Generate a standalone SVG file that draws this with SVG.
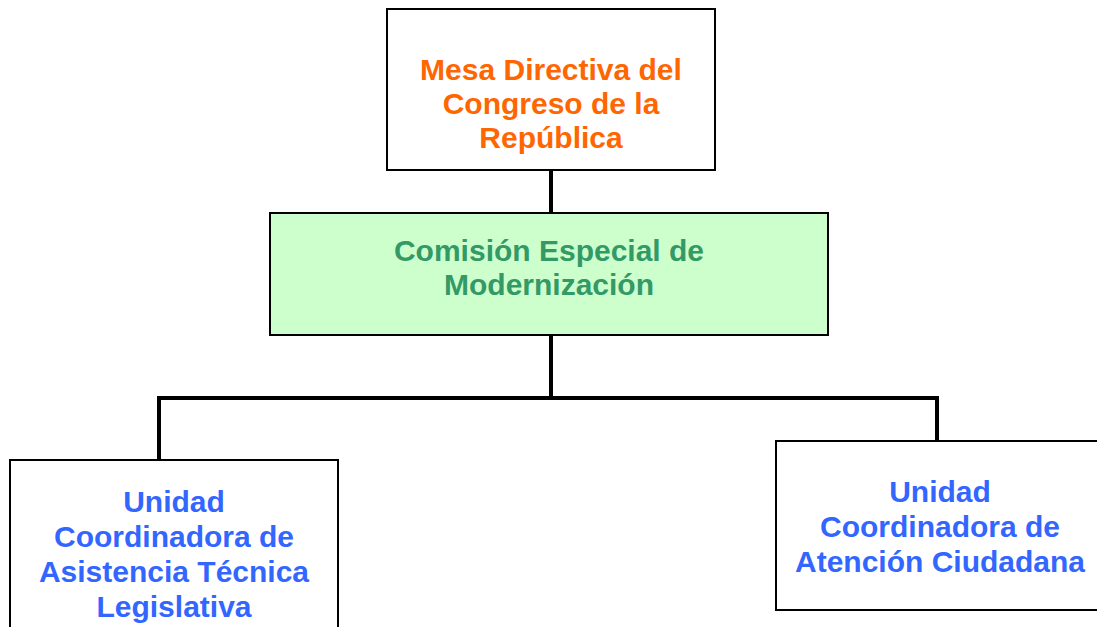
<svg xmlns="http://www.w3.org/2000/svg" width="1097" height="627" viewBox="0 0 1097 627">
<style>
.box{fill:#fff;stroke:#000;stroke-width:2}
.t{font-family:"Liberation Sans",Arial,sans-serif;font-weight:bold;font-size:30px;text-anchor:middle}
.conn{stroke:#000;stroke-width:4;fill:none}
</style>
<rect width="1097" height="627" fill="#fff"/>
<g id="connectors">
<line class="conn" x1="551" y1="170" x2="551" y2="213"/>
<line class="conn" x1="551" y1="335" x2="551" y2="398"/>
<polyline class="conn" points="159,460 159,398 937,398 937,441"/>
</g>
<g id="mesa">
<rect class="box" x="387" y="9" width="328" height="161"/>
<text class="t" fill="#FF6600"><tspan x="551" y="80">Mesa Directiva del</tspan><tspan x="551" y="114">Congreso de la</tspan><tspan x="551" y="148">República</tspan></text>
</g>
<g id="comision">
<rect class="box" x="270" y="213" width="558" height="122" style="fill:#CCFFCC"/>
<text class="t" fill="#339966"><tspan x="549" y="261">Comisión Especial de</tspan><tspan x="549" y="295">Modernización</tspan></text>
</g>
<g id="asistencia">
<rect class="box" x="10" y="460" width="328" height="180"/>
<text class="t" fill="#3366FF"><tspan x="174" y="512">Unidad</tspan><tspan x="174" y="547">Coordinadora de</tspan><tspan x="174" y="582">Asistencia Técnica</tspan><tspan x="174" y="617">Legislativa</tspan></text>
</g>
<g id="atencion">
<rect class="box" x="776" y="441" width="330" height="169"/>
<text class="t" fill="#3366FF"><tspan x="940" y="502">Unidad</tspan><tspan x="940" y="537">Coordinadora de</tspan><tspan x="940" y="572">Atención Ciudadana</tspan></text>
</g>
</svg>
